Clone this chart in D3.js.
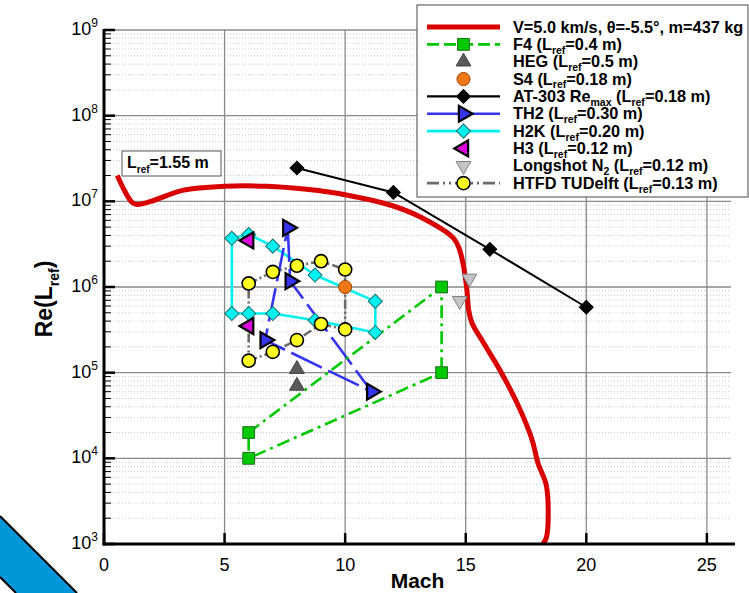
<!DOCTYPE html>
<html>
<head>
<meta charset="utf-8">
<script src="https://cdn.jsdelivr.net/npm/d3@7"></script>
<style>
  html, body { margin: 0; padding: 0; background: #fff; }
  svg { display: block; font-family: "Liberation Sans", Arial, Helvetica, sans-serif; }
</style>
</head>
<body>
<svg id="chart" width="749" height="593"></svg>
<script>
// Axis ticks
const machTicks = [0, 5, 10, 15, 20, 25];
const reExponents = [3, 4, 5, 6, 7, 8, 9];

// Flight trajectory, V=5.0 km/s, theta=-5.5 deg, m=437 kg (Lref = 1.55 m)
const trajMach = [0.55, 0.87, 1.15, 1.36, 1.91, 3.3, 5.0, 6.75, 8.4, 10.1, 11.9, 13.1, 14.5, 14.75, 14.9, 15.05, 15.12, 15.26, 15.75, 16.45, 17.2, 17.75, 18.0, 18.35, 18.35, 18.2];
const trajRe   = [2.0e7, 1.3e7, 9.8e6, 9.2e6, 9.9e6, 1.35e7, 1.5e7, 1.5e7, 1.38e7, 1.18e7, 9.0e6, 6.6e6, 3.7e6, 2.7e6, 1.8e6, 9.2e5, 5.4e5, 3.8e5, 2.2e5, 1.03e5, 4.0e4, 1.65e4, 8.7e3, 4.7e3, 1.2e3, 1.0e3];

// Facility envelopes
const f4Mach = [6, 14, 14, 6];
const f4Re   = [2e4, 1e6, 1e5, 1e4];

const hegMach = [8, 8];
const hegRe   = [1.1e5, 7.0e4];

const s4Mach = [10];
const s4Re   = [1e6];

const at303Mach = [8, 12, 16, 20];
const at303Re   = [2.45e7, 1.27e7, 2.75e6, 5.8e5];

const th2Mach = [7.62, 7.72, 11.1, 6.68];
const th2Re   = [4.9e6, 1.17e6, 6.0e4, 2.4e5];

const h2kMach = [5.3, 6.0, 7.0, 8.75, 11.25, 11.25, 8.75, 7.0, 6.0, 5.3];
const h2kRe   = [3.7e6, 4.1e6, 3.0e6, 1.38e6, 6.8e5, 2.95e5, 4.1e5, 4.9e5, 4.9e5, 4.9e5];

const h3Mach = [6, 6];
const h3Re   = [3.5e6, 3.5e5];

const longshotMach = [15.15, 14.75];
const longshotRe   = [1.26e6, 6.9e5];

const htfdMach = [6, 7, 8, 9, 10, 10, 9, 8, 7, 6];
const htfdRe   = [1.1e6, 1.5e6, 1.77e6, 2.0e6, 1.6e6, 3.2e5, 3.7e5, 2.4e5, 1.75e5, 1.38e5];

// Legend labels (_{...} marks a subscript)
const legendLabels = [
  "V=5.0 km/s, \u03b8=-5.5\u00b0, m=437 kg",
  "F4 (L_{ref}=0.4 m)",
  "HEG (L_{ref}=0.5 m)",
  "S4 (L_{ref}=0.18 m)",
  "AT-303 Re_{max} (L_{ref}=0.18 m)",
  "TH2 (L_{ref}=0.30 m)",
  "H2K (L_{ref}=0.20 m)",
  "H3 (L_{ref}=0.12 m)",
  "Longshot N_{2} (L_{ref}=0.12 m)",
  "HTFD TUDelft (L_{ref}=0.13 m)"
];

const svg = d3.select("#chart");
const plot = { left: 104, right: 731, top: 30, bottom: 544 };

const x = d3.scaleLinear().domain([0, 26]).range([plot.left, plot.right]);
const y = d3.scaleLog().domain([1e3, 1e9]).range([plot.bottom, plot.top]);

const zip = (a, b) => a.map((v, i) => [v, b[i]]);

// decorative corner band
svg.append("path")
  .attr("d", "M0,516 L77,593 L16,593 L0,577 Z")
  .attr("fill", "#0096d8");
svg.append("path").attr("d", "M0,516 L77,593").attr("stroke", "#000").attr("stroke-width", 2);
svg.append("path").attr("d", "M0,577 L16,593").attr("stroke", "#000").attr("stroke-width", 2);

svg.append("defs").append("clipPath").attr("id", "clip")
  .append("rect")
  .attr("x", plot.left).attr("y", plot.top)
  .attr("width", plot.right - plot.left).attr("height", plot.bottom - plot.top);

// minor grid (dotted)
const minorVals = [];
for (let e = 3; e < 9; e++) for (let m = 2; m <= 9; m++) minorVals.push(m * Math.pow(10, e));
const grid = svg.append("g");
grid.selectAll("line.minor").data(minorVals).join("line")
  .attr("x1", plot.left).attr("x2", plot.right)
  .attr("y1", d => y(d)).attr("y2", d => y(d))
  .attr("stroke", "#c8c8c8").attr("stroke-width", 1).attr("stroke-dasharray", "1,2");

// major grid
grid.selectAll("line.hmaj").data(reExponents.slice(1)).join("line")
  .attr("x1", plot.left).attr("x2", plot.right)
  .attr("y1", e => y(Math.pow(10, e))).attr("y2", e => y(Math.pow(10, e)))
  .attr("stroke", "#8a8a8a").attr("stroke-width", 1.3);
grid.selectAll("line.vmaj").data(machTicks.slice(1)).join("line")
  .attr("x1", d => x(d)).attr("x2", d => x(d))
  .attr("y1", plot.top).attr("y2", plot.bottom)
  .attr("stroke", "#8a8a8a").attr("stroke-width", 1.3);

// line helper
const lineGen = d3.line().x(d => x(d[0])).y(d => y(d[1]));
const data = svg.append("g").attr("clip-path", "url(#clip)");

function drawPath(pts, color, width, dash, closed) {
  const p = closed ? pts.concat([pts[0]]) : pts;
  data.append("path").attr("d", lineGen(p))
    .attr("fill", "none").attr("stroke", color).attr("stroke-width", width)
    .attr("stroke-dasharray", dash || null).attr("stroke-linejoin", "round");
}

const COL = {
  traj: "#d90000", f4: "#00c800", heg: "#5a5a5a", s4: "#f07818", at: "#000000",
  th2: "#3535f0", h2k: "#00f0f0", h3: "#e000e0", ls: "#c4c4c4", htfd: "#6a6a6a", yel: "#ffff22"
};
const DASH = { f4: "13,5,3,5", th2: "34,7", htfd: "9,3,2,3,2,3" };

drawPath(zip(htfdMach, htfdRe), COL.htfd, 2.6, DASH.htfd, true);
drawPath(zip(h2kMach, h2kRe), COL.h2k, 2.6, null, true);
drawPath(zip(th2Mach, th2Re), COL.th2, 2.6, DASH.th2, true);
drawPath(zip(f4Mach, f4Re), COL.f4, 2.6, DASH.f4, true);
drawPath(zip(at303Mach, at303Re), COL.at, 2, null, false);

// trajectory
data.append("path")
  .attr("d", d3.line().x(d => x(d[0])).y(d => y(d[1])).curve(d3.curveCatmullRom.alpha(0.5))(zip(trajMach, trajRe)))
  .attr("fill", "none").attr("stroke", COL.traj).attr("stroke-width", 5).attr("stroke-linejoin", "round");

// marker helper
const MK = {
  square:  { type: d3.symbolSquare, size: 140, rot: 0 },
  diamond: { type: d3.symbolSquare, size: 100, rot: 45 },
  bdiam:   { type: d3.symbolSquare, size: 95, rot: 45 },
  tri:     { type: d3.symbolTriangle, size: 95, rot: 0 },
  triR:    { type: d3.symbolTriangle, size: 110, rot: 90 },
  triL:    { type: d3.symbolTriangle, size: 110, rot: -90 },
  triD:    { type: d3.symbolTriangle, size: 95, rot: 180 },
  circle:  { type: d3.symbolCircle, size: 135, rot: 0 }
};
function marker(g, cx, cy, kind, fill, stroke, sw) {
  const m = MK[kind];
  g.append("path")
    .attr("d", d3.symbol().type(m.type).size(m.size)())
    .attr("transform", `translate(${cx},${cy}) rotate(${m.rot})`)
    .attr("fill", fill).attr("stroke", stroke).attr("stroke-width", sw);
}
const marks = svg.append("g");
function drawMarks(mach, re, kind, fill, stroke, sw) {
  mach.forEach((m, i) => marker(marks, x(m), y(re[i]), kind, fill, stroke, sw));
}

drawMarks(h2kMach, h2kRe, "diamond", COL.h2k, "#207070", 1);
drawMarks(htfdMach, htfdRe, "circle", COL.yel, "#000", 1.6);
drawMarks(s4Mach, s4Re, "circle", COL.s4, "#a04800", 1);
drawMarks(th2Mach, th2Re, "triR", COL.th2, "#000", 2.2);
drawMarks(h3Mach, h3Re, "triL", COL.h3, "#000", 2.2);
drawMarks(hegMach, hegRe, "tri", COL.heg, "#404040", 1);
drawMarks(f4Mach, f4Re, "square", COL.f4, "#207020", 1);
drawMarks(at303Mach, at303Re, "bdiam", "#000", "#000", 1);
drawMarks(longshotMach, longshotRe, "triD", COL.ls, "#808080", 1);

// axes
const axes = svg.append("g");
axes.append("line").attr("x1", plot.left).attr("x2", plot.left)
  .attr("y1", plot.top - 1).attr("y2", plot.bottom + 1.5).attr("stroke", "#000").attr("stroke-width", 3);
axes.append("line").attr("x1", plot.left - 1.5).attr("x2", plot.right + 4)
  .attr("y1", plot.bottom).attr("y2", plot.bottom).attr("stroke", "#000").attr("stroke-width", 3);

// y ticks
axes.selectAll("line.ymaj").data(reExponents).join("line")
  .attr("x1", plot.left).attr("x2", plot.left + 11)
  .attr("y1", e => y(Math.pow(10, e))).attr("y2", e => y(Math.pow(10, e)))
  .attr("stroke", "#000").attr("stroke-width", 2.5);
axes.selectAll("line.ymin").data(minorVals).join("line")
  .attr("x1", plot.left).attr("x2", plot.left + 7)
  .attr("y1", d => y(d)).attr("y2", d => y(d))
  .attr("stroke", "#000").attr("stroke-width", 1);
// x ticks
axes.selectAll("line.xmaj").data(machTicks).join("line")
  .attr("x1", d => x(d)).attr("x2", d => x(d))
  .attr("y1", plot.bottom).attr("y2", plot.bottom - 11)
  .attr("stroke", "#000").attr("stroke-width", 2.5);

// tick labels
axes.selectAll("text.xl").data(machTicks).join("text")
  .attr("x", d => x(d)).attr("y", plot.bottom + 27)
  .attr("text-anchor", "middle").attr("font-size", 18).text(d => d);

const yl = axes.selectAll("text.yl").data(reExponents).join("text")
  .attr("x", plot.left - 6).attr("y", e => y(Math.pow(10, e)) + 5)
  .attr("text-anchor", "end").attr("font-size", 18);
yl.append("tspan").text("10");
yl.append("tspan").attr("dy", -8).attr("font-size", 12).text(e => e);

// axis titles
svg.append("text").attr("x", x(13)).attr("y", 588)
  .attr("text-anchor", "middle").attr("font-size", 21).attr("font-weight", "bold").text("Mach");

function richText(sel, str, base, subSize) {
  const parts = str.split(/(_\{[^}]*\})/).filter(s => s.length);
  let shifted = false;
  parts.forEach(p => {
    if (p.startsWith("_{")) {
      sel.append("tspan").attr("dy", base * 0.3).attr("font-size", subSize).text(p.slice(2, -1));
      shifted = true;
    } else {
      const t = sel.append("tspan").text(p);
      if (shifted) { t.attr("dy", -base * 0.3); shifted = false; }
    }
  });
}

const ylab = svg.append("text")
  .attr("transform", `translate(52,${(plot.top + plot.bottom) / 2 + 12}) rotate(-90)`)
  .attr("text-anchor", "middle").attr("font-size", 23).attr("font-weight", "bold");
richText(ylab, "Re(L_{ref})", 23, 14);

// Lref label box
const lb = svg.append("g");
lb.append("rect").attr("x", 122).attr("y", 151).attr("width", 99).attr("height", 25)
  .attr("fill", "#fff").attr("stroke", "#555").attr("stroke-width", 1);
const lbt = lb.append("text").attr("x", 127).attr("y", 168)
  .attr("font-size", 16).attr("font-weight", "bold");
richText(lbt, "L_{ref}=1.55 m", 16, 10);

// legend
const lg = svg.append("g");
lg.append("rect").attr("x", 417).attr("y", 5).attr("width", 331).attr("height", 192)
  .attr("fill", "#fff").attr("stroke", "#666").attr("stroke-width", 1.2);
const legTop = 27, legStep = 17.35, lx1 = 427, lx2 = 500, lmx = 463.5, ltx = 513;
const legendStyles = [
  { color: COL.traj, width: 5 },
  { color: COL.f4, width: 2.6, dash: "12,5", mk: ["square", COL.f4, "#207020", 1] },
  { mk: ["tri", COL.heg, "#404040", 1] },
  { mk: ["circle", COL.s4, "#a04800", 1] },
  { color: "#000", width: 2.2, mk: ["bdiam", "#000", "#000", 1] },
  { color: COL.th2, width: 2.4, mk: ["triR", COL.th2, "#000", 2.2] },
  { color: COL.h2k, width: 2.6, mk: ["diamond", COL.h2k, "#207070", 1] },
  { mk: ["triL", COL.h3, "#000", 2.2] },
  { mk: ["triD", COL.ls, "#808080", 1] },
  { color: COL.htfd, width: 2.6, dash: "12,4,2,4,2,4", mk: ["circle", COL.yel, "#000", 1.6] }
];
legendLabels.forEach((lab, i) => {
  const cy = legTop + i * legStep;
  const st = legendStyles[i];
  if (st.color) {
    lg.append("line").attr("x1", lx1).attr("x2", lx2).attr("y1", cy).attr("y2", cy)
      .attr("stroke", st.color).attr("stroke-width", st.width).attr("stroke-dasharray", st.dash || null);
  }
  if (st.mk) marker(lg, lmx, cy, st.mk[0], st.mk[1], st.mk[2], st.mk[3]);
  const t = lg.append("text").attr("x", ltx).attr("y", cy + 5.5)
    .attr("font-size", 16.3).attr("font-weight", "bold");
  richText(t, lab, 13, 10.5);
});
</script>
</body>
</html>
